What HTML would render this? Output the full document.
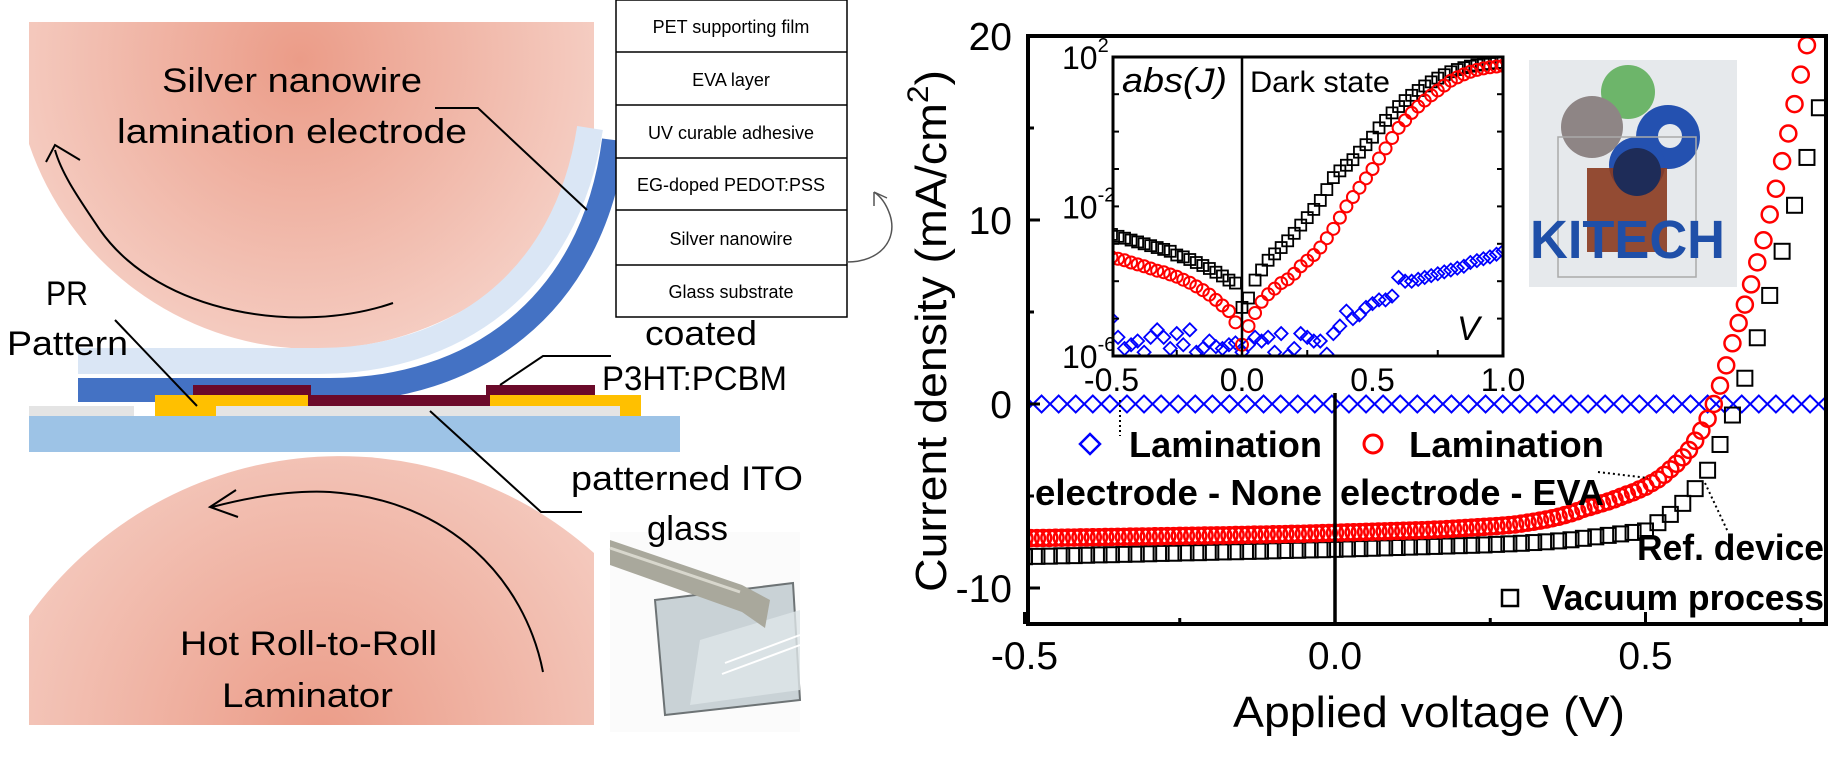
<!DOCTYPE html>
<html><head><meta charset="utf-8">
<style>
html,body{margin:0;padding:0;background:#fff;width:1846px;height:757px;overflow:hidden;}
svg{display:block;font-family:"Liberation Sans",sans-serif;}
</style></head>
<body>
<svg id="fig" width="1846" height="757" viewBox="0 0 1846 757" xmlns="http://www.w3.org/2000/svg">
<defs>
<radialGradient id="rollTop" cx="300" cy="60" r="330" gradientUnits="userSpaceOnUse">
<stop offset="0" stop-color="#eb9c88"/><stop offset="1" stop-color="#f6d2c8"/></radialGradient>
<radialGradient id="rollBot" cx="320" cy="740" r="400" gradientUnits="userSpaceOnUse">
<stop offset="0" stop-color="#eb9c88"/><stop offset="1" stop-color="#f6d2c8"/></radialGradient>
<clipPath id="clipStrip"><rect x="0" y="0" width="616" height="757"/></clipPath>
<clipPath id="clipMain"><rect x="1028" y="36" width="798" height="588"/></clipPath>
<clipPath id="clipInset"><rect x="1113" y="57" width="390" height="299"/></clipPath>
</defs>

<!-- ===== Left schematic ===== -->
<g>
<path d="M29,22 L594,22 L594,162.6 A302,302 0 0 1 29,144 Z" fill="url(#rollTop)"/>
<path d="M29,725 L29,616 A382,382 0 0 1 594,553 L594,725 Z" fill="url(#rollBot)"/>
<g clip-path="url(#clipStrip)">
<path d="M78,390 L330,390 C470,390 592,310 614,140" fill="none" stroke="#4472c4" stroke-width="24"/>
<path d="M78,361 L318,361 C452,361 566,285 590,128" fill="none" stroke="#dae6f5" stroke-width="26"/>
</g>
<rect x="29" y="416" width="651" height="36" fill="#9dc3e6"/>
<rect x="29" y="406" width="105" height="10" fill="#e4e4e4"/>
<rect x="216" y="406" width="404" height="10" fill="#e4e4e4"/>
<path d="M155,395 H308 V406 H216 V416 H155 Z" fill="#ffc000"/>
<path d="M490,395 H641 V416 H620 V406 H490 Z" fill="#ffc000"/>
<rect x="193" y="385" width="118" height="10" fill="#6b0a2a"/>
<rect x="308" y="395" width="182" height="11" fill="#6b0a2a"/>
<rect x="486" y="385" width="109" height="10" fill="#6b0a2a"/>
<!-- photo of sample -->
<g>
<rect x="610" y="532" width="190" height="200" fill="#fbfbfb"/>
<path d="M655,600 L793,583 L800,700 L665,715 Z" fill="#c9d2d6" stroke="#6d7375" stroke-width="2"/>
<path d="M700,640 L800,610 L800,690 L690,705 Z" fill="#dfe6e8" opacity="0.8"/>
<path d="M610,540 L742,585 L770,600 L765,628 L742,612 L610,565 Z" fill="#a9a89c"/>
<path d="M610,548 L740,592" stroke="#d8d7cd" stroke-width="3"/>
<path d="M725,663 L800,635 M722,674 L800,645" stroke="#fff" stroke-width="2"/>
</g>
<g fill="none" stroke="#000" stroke-width="2">
<path d="M393,303 C300,335 160,315 100,230 C80,200 62,175 55,150"/>
<path d="M46,162 L55,145 L80,160"/>
<path d="M543,672 C525,580 450,500 330,492 C290,490 250,497 212,507"/>
<path d="M236,490 L210,507 L238,517"/>
<path d="M587,210 L478,108 L435,108"/>
<path d="M115,320 L197,406"/>
<path d="M500,385 L543,356 L611,356"/>
<path d="M430,411 L541,512 L582,512"/>
</g>
<g font-family="Liberation Sans, sans-serif" fill="#000">
<text x="162" y="92" font-size="34" textLength="260" lengthAdjust="spacingAndGlyphs">Silver nanowire</text>
<text x="117" y="143" font-size="34" textLength="350" lengthAdjust="spacingAndGlyphs">lamination electrode</text>
<text x="46" y="305" font-size="34" textLength="42" lengthAdjust="spacingAndGlyphs">PR</text>
<text x="7" y="355" font-size="34" textLength="121" lengthAdjust="spacingAndGlyphs">Pattern</text>
<text x="645" y="345" font-size="34" textLength="112" lengthAdjust="spacingAndGlyphs">coated</text>
<text x="602" y="390" font-size="34" textLength="185" lengthAdjust="spacingAndGlyphs">P3HT:PCBM</text>
<text x="571" y="490" font-size="34" textLength="232" lengthAdjust="spacingAndGlyphs">patterned ITO</text>
<text x="647" y="540" font-size="34" textLength="81" lengthAdjust="spacingAndGlyphs">glass</text>
<text x="180" y="655" font-size="34" textLength="257" lengthAdjust="spacingAndGlyphs">Hot Roll-to-Roll</text>
<text x="222" y="707" font-size="34" textLength="171" lengthAdjust="spacingAndGlyphs">Laminator</text>
</g>
<!-- layer stack table -->
<g font-size="18" text-anchor="middle">
<rect x="616" y="0" width="231" height="317" fill="#fff" stroke="#000" stroke-width="1.5"/>
<g stroke="#000" stroke-width="1.5">
<line x1="616" y1="52" x2="847" y2="52"/><line x1="616" y1="105" x2="847" y2="105"/>
<line x1="616" y1="158" x2="847" y2="158"/><line x1="616" y1="210" x2="847" y2="210"/>
<line x1="616" y1="265" x2="847" y2="265"/></g>
<text x="731" y="33">PET supporting film</text>
<text x="731" y="86">EVA layer</text>
<text x="731" y="139">UV curable adhesive</text>
<text x="731" y="191">EG-doped PEDOT:PSS</text>
<text x="731" y="245">Silver nanowire</text>
<text x="731" y="298">Glass substrate</text>
</g>
<path d="M847,262 C880,262 898,240 890,215 C886,203 880,196 874,192 M874,192 L874,206 M874,192 L887,198" fill="none" stroke="#555" stroke-width="1.5"/>
</g>

<!-- ===== KITECH photo ===== -->
<g>
<rect x="1529" y="60" width="208" height="227" fill="#e6e9ec"/>
<circle cx="1628" cy="92" r="27" fill="#6db56a"/>
<circle cx="1592" cy="127" r="31" fill="#8e8585"/>
<circle cx="1668" cy="137" r="32" fill="#2451b0"/>
<circle cx="1637" cy="165" r="28" fill="#2451b0"/>
<circle cx="1670" cy="136" r="12" fill="#e6e9ec"/>
<rect x="1587" y="168" width="80" height="84" fill="#8a3a1f" opacity="0.9"/>
<circle cx="1637" cy="172" r="24" fill="#1e2c58"/>
<rect x="1558" y="137" width="138" height="140" fill="none" stroke="#aaa" stroke-width="1.5"/>
<text x="1530" y="258" font-size="54" font-weight="bold" fill="#1f4fa8" textLength="195" lengthAdjust="spacingAndGlyphs">KITECH</text>
</g>

<g id="mainChart"></g>
</svg>

<script>
// ---------- Main J-V chart data ----------
const mainVStart = -0.5;
const redStep = 0.01;
const redJ = [-7.30,-7.29,-7.29,-7.28,-7.28,-7.27,-7.27,-7.26,-7.26,-7.25,
-7.25,-7.24,-7.24,-7.23,-7.23,-7.22,-7.22,-7.21,-7.21,-7.20,
-7.20,-7.19,-7.19,-7.18,-7.18,-7.17,-7.17,-7.16,-7.16,-7.15,
-7.15,-7.14,-7.14,-7.13,-7.12,-7.12,-7.11,-7.10,-7.10,-7.09,
-7.08,-7.08,-7.07,-7.06,-7.06,-7.05,-7.04,-7.03,-7.02,-7.01,-7.00,
-6.99,-6.98,-6.97,-6.96,-6.95,-6.94,-6.93,-6.92,-6.91,-6.90,
-6.89,-6.88,-6.87,-6.86,-6.85,-6.83,-6.82,-6.80,-6.78,-6.76,
-6.74,-6.72,-6.70,-6.68,-6.66,-6.64,-6.61,-6.58,-6.55,-6.50,
-6.45,-6.40,-6.34,-6.28,-6.21,-6.13,-6.04,-5.94,-5.83,-5.70,
-5.60,-5.50,-5.40,-5.30,-5.18,-5.05,-4.92,-4.80,-4.65,-4.50,
-4.30,-4.10,-3.85,-3.55,-3.25,-2.90,-2.50,-2.00,-1.45,-0.80,
0.00,1.00,2.10,3.30,4.40,5.40,6.50,7.70,8.90,10.30,11.70,13.20,14.70,16.30,17.90,19.50];
const blackStep = 0.02;
const blackJ = [-8.30,-8.28,-8.27,-8.25,-8.24,-8.22,-8.20,-8.19,-8.17,-8.16,-8.14,-8.12,-8.11,-8.09,-8.08,-8.06,-8.04,-8.03,-8.01,-8.00,-7.98,-7.96,-7.95,-7.93,-7.92,-7.90,
-7.88,-7.86,-7.84,-7.82,-7.80,-7.78,-7.76,-7.74,-7.72,-7.70,-7.68,-7.66,-7.63,-7.60,-7.57,-7.53,-7.49,-7.44,-7.38,-7.30,
-7.22,-7.14,-7.06,-6.98,
-6.90,-6.45,-6.00,-5.40,-4.60,-3.60,-2.20,-0.60,1.40,3.60,5.90,8.30,10.80,13.40,16.10];
const blueStep = 0.0275;
const blueJ = [0,0,0,0,0,0,0,0,0,0,0,0,0,0,0,0,0,0,0,0,0,0,0,0,0,0,0,0,0,0,0,0,0,0,0,0,0,0,0,0,0,0,0,0,0,0,0,0];
const mainXTicks = [-0.5, 0.0, 0.5];
const mainXTickLabels = ["-0.5", "0.0", "0.5"];
const mainYTicks = [20, 10, 0, -10];
const mainYTickLabels = ["20", "10", "0", "-10"];

// ---------- Inset (dark state, log |J|) data ----------
const insetVStart = -0.5;
const insetStep = 0.025;
const insetBlackLog = [-2.75,-2.8,-2.85,-2.9,-2.95,-3.0,-3.05,-3.1,-3.15,-3.2,-3.3,-3.35,-3.42,-3.5,-3.58,-3.66,-3.76,-3.86,-3.97,-4.05,-4.7,
-4.45,-3.97,-3.7,-3.44,-3.27,-3.1,-2.92,-2.72,-2.5,-2.3,-2.08,-1.84,-1.55,-1.23,-1.05,-0.9,-0.75,-0.55,-0.35,-0.15,
0.1,0.3,0.5,0.67,0.83,0.97,1.1,1.22,1.33,1.43,1.52,1.6,1.66,1.71,1.75,1.78,1.8,1.82,1.84,1.85];
const insetRedLog = [-3.36,-3.4,-3.44,-3.5,-3.55,-3.6,-3.66,-3.72,-3.76,-3.82,-3.88,-3.96,-4.04,-4.14,-4.24,-4.36,-4.5,-4.65,-4.8,-5.1,-5.7,
-5.2,-4.85,-4.55,-4.35,-4.2,-4.05,-3.95,-3.8,-3.6,-3.45,-3.3,-3.1,-2.85,-2.6,-2.3,-2.0,-1.75,-1.5,-1.25,-1.0,
-0.72,-0.45,-0.17,0.1,0.3,0.5,0.67,0.83,0.97,1.1,1.23,1.36,1.45,1.53,1.6,1.65,1.69,1.72,1.74,1.76];
const insetBlueLog = [-5.0,-5.5,-5.8,-5.7,-5.6,-5.9,-5.5,-5.3,-5.5,-5.8,-5.4,-5.7,-5.3,-5.9,-5.8,-5.6,-5.75,-5.8,-5.7,-5.65,-5.9,
-5.7,-5.5,-5.6,-5.5,-5.9,-5.4,-6.0,-5.8,-5.4,-5.5,-5.6,-5.6,-5.95,-5.4,-5.2,-4.8,-5.0,-4.9,-4.7,-4.6,
-4.5,-4.5,-4.4,-3.9,-4.0,-4.0,-3.95,-3.9,-3.85,-3.8,-3.75,-3.7,-3.65,-3.6,-3.5,-3.45,-3.4,-3.35,-3.28,-3.2];
const insetXTicks = [-0.5, 0.0, 0.5, 1.0];
const insetXTickLabels = ["-0.5", "0.0", "0.5", "1.0"];
const insetYTicks = [2, -2, -6];
const insetYTickExp = ["2", "-2", "-6"];

// ---------- axis functions ----------
function xMain(v){ return 1335 + v * 621; }
function yMain(j){ return 404 - j * 18.4; }
function xIn(v){ return 1242 + v * 261; }
function yIn(l){ return 356 - (l + 6) * 37.4; }

const NS = "http://www.w3.org/2000/svg";
const root = document.getElementById('mainChart');
function mk(tag, attrs, parent){
  const e = document.createElementNS(NS, tag);
  for (const k in attrs) e.setAttribute(k, attrs[k]);
  (parent || root).appendChild(e);
  return e;
}
function diamond(g, cx, cy, w, h, color, sw){
  return mk('path', {d:`M${cx-w},${cy} L${cx},${cy-h} L${cx+w},${cy} L${cx},${cy+h} Z`, fill:'none', stroke:color, 'stroke-width':sw}, g);
}

// main series
const gMain = mk('g', {'clip-path':'url(#clipMain)'});


const gBlue = mk('g', {}, gMain);


blueJ.forEach((j, i) => {
  const d = diamond(gBlue, xMain(mainVStart + i * blueStep), yMain(j), 8.5, 8.5, '#0000ff', 2);
  
  
});
const gBlack = mk('g', {}, gMain);


blackJ.forEach((j, i) => {
  const r = mk('rect', {x: xMain(mainVStart + i * blackStep) - 7.5, y: yMain(j) - 7.5, width: 15, height: 15, fill:'none', stroke:'#000', 'stroke-width':2}, gBlack);
  
  
});
const gRed = mk('g', {}, gMain);


redJ.forEach((j, i) => {
  const c = mk('circle', {cx: xMain(mainVStart + i * redStep), cy: yMain(j), r: 8, fill:'none', stroke:'#ff0000', 'stroke-width':2.5}, gRed);
  
  
});

// zero-voltage line
const zl = mk('line', {x1: xMain(0), y1: 393, x2: xMain(0), y2: 624, stroke:'#000', 'stroke-width':3.5});



// frame + ticks
const frame = mk('rect', {x:1028, y:36, width:798, height:588, fill:'none', stroke:'#000', 'stroke-width':4});


[-0.25, 0.25, 0.75].forEach(v => { mk('line', {x1:xMain(v), y1:624, x2:xMain(v), y2:618, stroke:'#000', 'stroke-width':3}); });
[15, 5, -5].forEach(j => { mk('line', {x1:1028, y1:yMain(j), x2:1034, y2:yMain(j), stroke:'#000', 'stroke-width':3}); });
mainYTicks.forEach((t, i) => {
  mk('line', {x1:1028, y1:yMain(t), x2:1040, y2:yMain(t), stroke:'#000', 'stroke-width':3});
  const tx = mk('text', {x:1012, y:yMain(t) + 14, 'font-size':39, 'text-anchor':'end'});
  tx.textContent = mainYTickLabels[i];
  
  
});
mainXTicks.forEach((t, i) => {
  mk('line', {x1:xMain(t), y1:624, x2:xMain(t), y2:612, stroke:'#000', 'stroke-width':3});
  const tx = mk('text', {x:xMain(t), y:669, 'font-size':39, 'text-anchor':'middle'});
  tx.textContent = mainXTickLabels[i];
  
  
});
const xt = mk('text', {x:1429, y:727, 'font-size':44, 'text-anchor':'middle', textLength:392, lengthAdjust:'spacingAndGlyphs'});
xt.textContent = 'Applied voltage (V)';


const yt = mk('text', {x:0, y:0, 'font-size':44, 'text-anchor':'middle', transform:'translate(946,331) rotate(-90)', textLength:522, lengthAdjust:'spacingAndGlyphs'});
yt.innerHTML = 'Current density (mA/cm<tspan dy="-18" font-size="30">2</tspan><tspan dy="18">)</tspan>';



// legend
function legText(x, y, w, s, name){
  const t = mk('text', {x:x, y:y, 'font-size':36, 'font-weight':'bold', textLength:w, lengthAdjust:'spacingAndGlyphs'});
  t.textContent = s;
  
  
}
const lgB = diamond(root, 1090, 444, 10, 10, '#0000ff', 2.5);


legText(1129, 457, 193, 'Lamination', 'legend-label-lamination-none-1');
legText(1035, 505, 287, 'electrode - None', 'legend-label-lamination-none-2');
const lgR = mk('circle', {cx:1373, cy:444, r:9, fill:'none', stroke:'#ff0000', 'stroke-width':3});


legText(1409, 457, 195, 'Lamination', 'legend-label-lamination-eva-1');
legText(1340, 505, 264, 'electrode - EVA', 'legend-label-lamination-eva-2');
legText(1637, 560, 187, 'Ref. device', 'legend-label-ref-device');
const lgK = mk('rect', {x:1502, y:590, width:16, height:16, fill:'none', stroke:'#000', 'stroke-width':2.5});


legText(1542, 610, 282, 'Vacuum process', 'legend-label-vacuum-process');
mk('line', {x1:1120, y1:400, x2:1120, y2:436, stroke:'#000', 'stroke-width':2, 'stroke-dasharray':'2,3'});
mk('line', {x1:1598, y1:472, x2:1648, y2:478, stroke:'#000', 'stroke-width':2, 'stroke-dasharray':'2,3'});
mk('line', {x1:1705, y1:483, x2:1728, y2:532, stroke:'#000', 'stroke-width':2, 'stroke-dasharray':'2,3'});

// ---------- inset ----------
const gIn = mk('g', {});


mk('rect', {x:1113, y:57, width:390, height:299, fill:'#fff'}, gIn);
const gInData = mk('g', {'clip-path':'url(#clipInset)'}, gIn);
insetBlueLog.forEach((l, i) => {
  const d = diamond(gInData, xIn(insetVStart + i * insetStep), yIn(l), 6.5, 6.5, '#0000ff', 1.8);
  
  
});
insetBlackLog.forEach((l, i) => {
  const r = mk('rect', {x:xIn(insetVStart + i * insetStep) - 5.5, y:yIn(l) - 5.5, width:11, height:11, fill:'none', stroke:'#000', 'stroke-width':1.8}, gInData);
  
  
});
insetRedLog.forEach((l, i) => {
  const c = mk('circle', {cx:xIn(insetVStart + i * insetStep), cy:yIn(l), r:6, fill:'none', stroke:'#ff0000', 'stroke-width':2}, gInData);
  
  
});
mk('line', {x1:xIn(0), y1:57, x2:xIn(0), y2:356, stroke:'#000', 'stroke-width':2.5}, gIn);
const inFrame = mk('rect', {x:1113, y:57, width:390, height:299, fill:'none', stroke:'#000', 'stroke-width':3}, gIn);


for (let d = -6; d <= 2; d++) {
  mk('line', {x1:1113, y1:yIn(d), x2:1119, y2:yIn(d), stroke:'#000', 'stroke-width':2}, gIn);
  mk('line', {x1:1503, y1:yIn(d), x2:1497, y2:yIn(d), stroke:'#000', 'stroke-width':2}, gIn);
}
[-0.25, 0.25, 0.75].forEach(v => { mk('line', {x1:xIn(v), y1:356, x2:xIn(v), y2:350, stroke:'#000', 'stroke-width':2}, gIn); });
insetXTicks.forEach((t, i) => {
  const tx = mk('text', {x:xIn(t), y:391, 'font-size':32, 'text-anchor':'middle'}, gIn);
  tx.textContent = insetXTickLabels[i];
  
  
});
insetYTicks.forEach((t, i) => {
  const tx = mk('text', {x:1062, y:yIn(t) + 12, 'font-size':32}, gIn);
  tx.innerHTML = '10<tspan dy="-17" font-size="20">' + insetYTickExp[i] + '</tspan>';
  
  
});
const t1 = mk('text', {x:1122, y:92, 'font-size':34, 'font-style':'italic', textLength:105, lengthAdjust:'spacingAndGlyphs'}, gIn);
t1.textContent = 'abs(J)';


const t2 = mk('text', {x:1250, y:92, 'font-size':30, textLength:140, lengthAdjust:'spacingAndGlyphs'}, gIn);
t2.textContent = 'Dark state';


const t3 = mk('text', {x:1457, y:340, 'font-size':34, 'font-style':'italic'}, gIn);
t3.textContent = 'V';


</script>
</body></html>
